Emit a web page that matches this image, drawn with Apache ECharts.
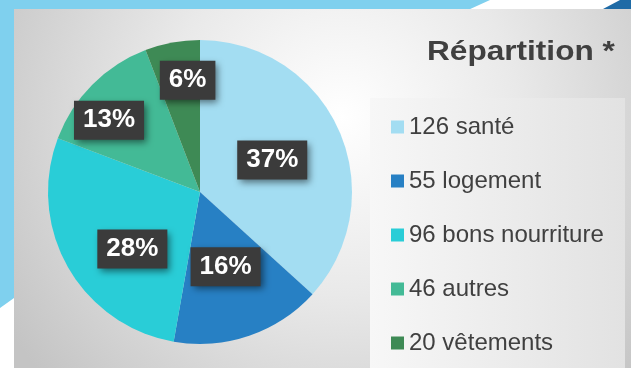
<!DOCTYPE html>
<html>
<head>
<meta charset="utf-8">
<script src="https://cdn.jsdelivr.net/npm/echarts@6/dist/echarts.min.js"></script>
<style>
  html, body { margin: 0; padding: 0; background: #ffffff; }
  #chart { width: 631px; height: 368px; }
</style>
</head>
<body>
<div id="chart"></div>
<script>
// Aid requests by type
const categories = ['santé', 'logement', 'bons nourriture', 'autres', 'vêtements'];
const counts = [126, 55, 96, 46, 20];
const sliceColors = ['#a3ddf2', '#2780c4', '#29cdd7', '#43ba96', '#3e8a55'];
const titleText = 'Répartition *';

// small pixel nudges for the percentage tags of each slice
const labelNudgeX = [0, 0, 1, -35, 2];
const labelNudgeY = [0, 0, 18, -16, -34];

const FONT = '"Liberation Sans", Arial, sans-serif';

const pieData = categories.map((name, i) => ({
  name: name,
  value: counts[i],
  itemStyle: { color: sliceColors[i] }
}));

const chart = echarts.init(document.getElementById('chart'), null, { renderer: 'canvas' });

chart.setOption({
  animation: false,
  graphic: [
    { type: 'rect', silent: true, z: -10, shape: { x: 0, y: 0, width: 631, height: 368 }, style: { fill: '#ffffff' } },
    { type: 'polygon', silent: true, z: -9, shape: { points: [[0, 0], [490, 0], [468, 10], [14, 10], [14, 298], [0, 308]] }, style: { fill: '#7fd0ee' } },
    { type: 'polygon', silent: true, z: -9, shape: { points: [[620, 0], [631, 0], [631, 9], [603, 9]] }, style: { fill: '#1f6ba6' } },
    {
      type: 'rect', silent: true, z: -8,
      shape: { x: 14, y: 9, width: 617, height: 359 },
      style: {
        fill: {
          type: 'radial', x: 0.53, y: 0.3, r: 1.1,
          colorStops: [
            { offset: 0, color: '#ffffff' },
            { offset: 0.45, color: '#e9e9e9' },
            { offset: 1, color: '#c4c4c4' }
          ]
        }
      }
    },
    {
      type: 'rect', silent: true, z: -7,
      shape: { x: 370, y: 98, width: 255, height: 280 },
      style: {
        fill: {
          type: 'linear', x: 0, y: 0, x2: 1, y2: 0,
          colorStops: [
            { offset: 0, color: '#f7f7f7' },
            { offset: 1, color: '#e2e2e2' }
          ]
        }
      }
    },
    {
      type: 'text', silent: true, z: 5,
      x: 427, y: 39, scaleX: 1.17,
      style: {
        text: titleText,
        fontSize: 27, fontWeight: 'bold', fontFamily: FONT,
        fill: '#404040', textVerticalAlign: 'top'
      }
    }
  ],
  legend: {
    orient: 'vertical',
    left: 391,
    top: 115,
    padding: 0,
    itemGap: 30,
    itemWidth: 13,
    itemHeight: 13,
    icon: 'rect',
    selectedMode: false,
    formatter: (name) => counts[categories.indexOf(name)] + ' ' + name,
    textStyle: { fontSize: 24, lineHeight: 24, color: '#404040', fontFamily: FONT }
  },
  series: [{
    type: 'pie',
    center: [200, 192],
    radius: 152,
    startAngle: 90,
    clockwise: true,
    avoidLabelOverlap: false,
    emphasis: { disabled: true },
    data: pieData,
    label: {
      show: true,
      position: 'inside',
      formatter: (p) => Math.round(p.percent) + '%',
      fontSize: 26,
      fontWeight: 'bold',
      fontFamily: FONT,
      color: '#ffffff',
      lineHeight: 26,
      padding: [7, 9, 6, 9],
      backgroundColor: '#3b3b3b',
      shadowBlur: 7,
      shadowColor: 'rgba(0,0,0,0.5)',
      shadowOffsetX: 3,
      shadowOffsetY: 3
    },
    labelLine: { show: false },
    labelLayout: (p) => ({ dx: labelNudgeX[p.dataIndex], dy: labelNudgeY[p.dataIndex] })
  }]
});
</script>
</body>
</html>
